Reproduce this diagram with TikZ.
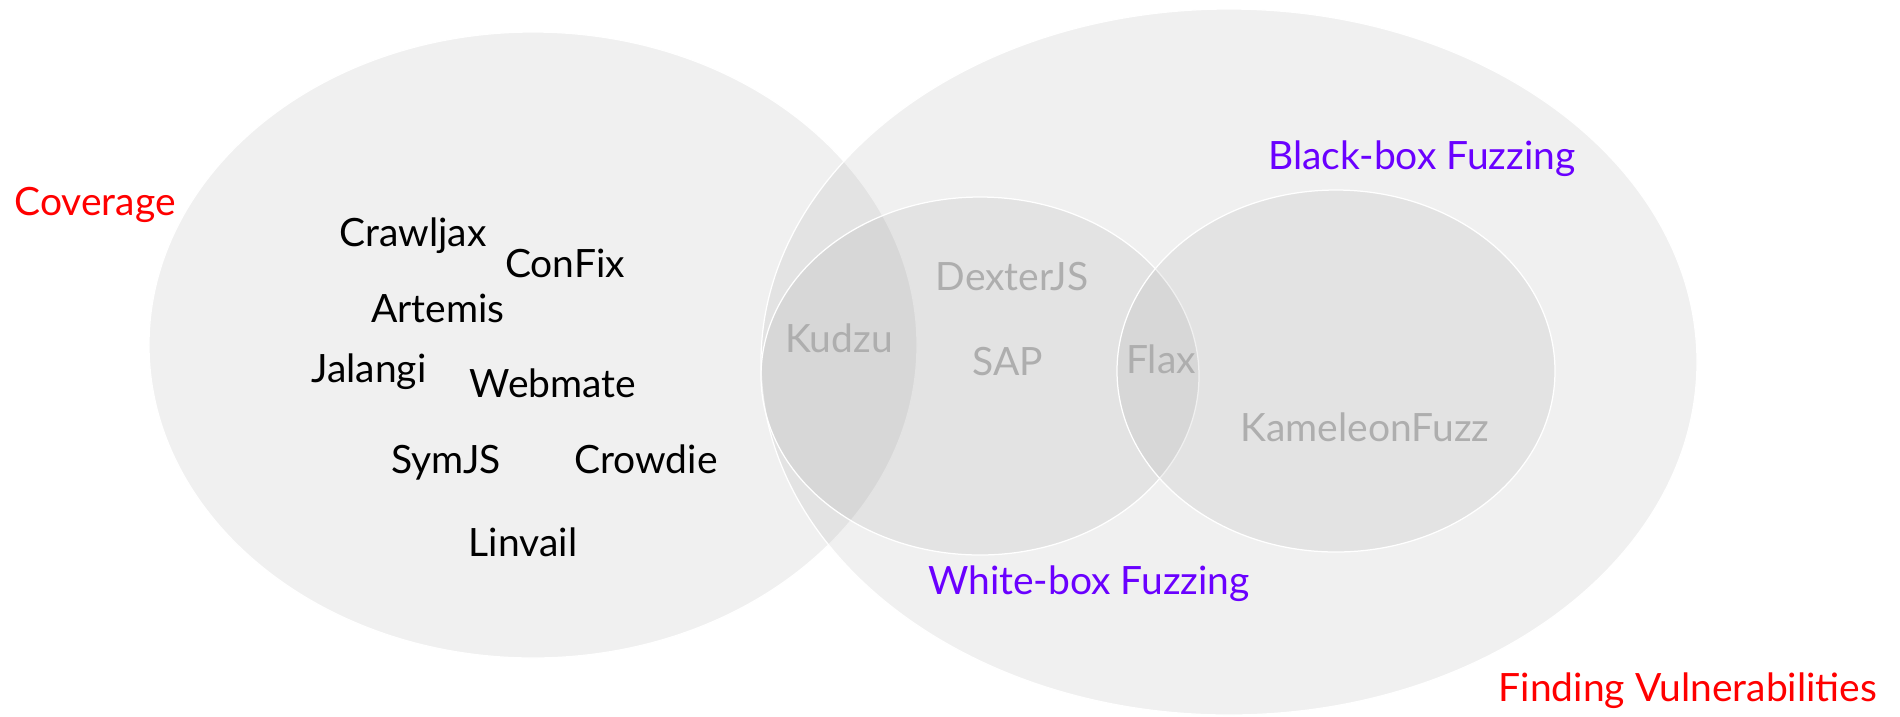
\documentclass[tikz,border=0pt]{standalone}
\usepackage{fontspec}
\setmainfont{Lato}
\usetikzlibrary{shapes.geometric}
\definecolor{vred}{HTML}{FF0000}
\definecolor{vpurple}{HTML}{6A00FF}
\definecolor{vgray}{HTML}{AEAEAE}
\tikzset{
  venn/.style={ellipse, draw=white, line width=0.5pt, fill=black!50, fill opacity=0.115, inner sep=0pt},
  lbl/.style={anchor=base, inner sep=0pt, font=\fontsize{15.6}{18}\selectfont},
  tool/.style={lbl, text=black},
  faint/.style={lbl, text=vgray},
  cat/.style={lbl, text=vpurple},
  goal/.style={lbl, text=vred}
}
\begin{document}
\begin{tikzpicture}[x=0.4pt,y=-0.4pt]
\useasboundingbox (0,0) rectangle (1900,716);
\fill[white] (0,0) rectangle (1900,716);
% ellipses
\node[venn, minimum width=307.2pt, minimum height=250.4pt] (cov) at (533,345) {};
\node[venn, minimum width=374.4pt, minimum height=282.4pt] (vuln) at (1229,362) {};
\node[venn, minimum width=175.2pt, minimum height=143.2pt] (white) at (980,376) {};
\node[venn, minimum width=175.2pt, minimum height=144.8pt] (black) at (1336,371) {};
% labels
\node[goal] (coverage) at (95,215) {Coverage};
\node[goal] (finding) at (1688,701) {Finding Vulnerabilities};
\node[cat] (bbf) at (1422,169) {Black-box Fuzzing};
\node[cat] (wbf) at (1089,594) {White-box Fuzzing};
% tools
\node[tool] (crawljax) at (413,246) {Crawljax};
\node[tool] (confix) at (565,277) {ConFix};
\node[tool] (artemis) at (438,322) {Artemis};
\node[tool] (jalangi) at (369,382) {Jalangi};
\node[tool] (webmate) at (553,397) {Webmate};
\node[tool] (symjs) at (446,473) {SymJS};
\node[tool] (crowdie) at (646,473) {Crowdie};
\node[tool] (linvail) at (523,556) {Linvail};
\node[faint] (kudzu) at (839,352) {Kudzu};
\node[faint] (dexterjs) at (1012,290) {DexterJS};
\node[faint] (sap) at (1008,375) {SAP};
\node[faint] (flax) at (1161,373) {Flax};
\node[faint] (kameleon) at (1365,441) {KameleonFuzz};
\end{tikzpicture}
\end{document}
